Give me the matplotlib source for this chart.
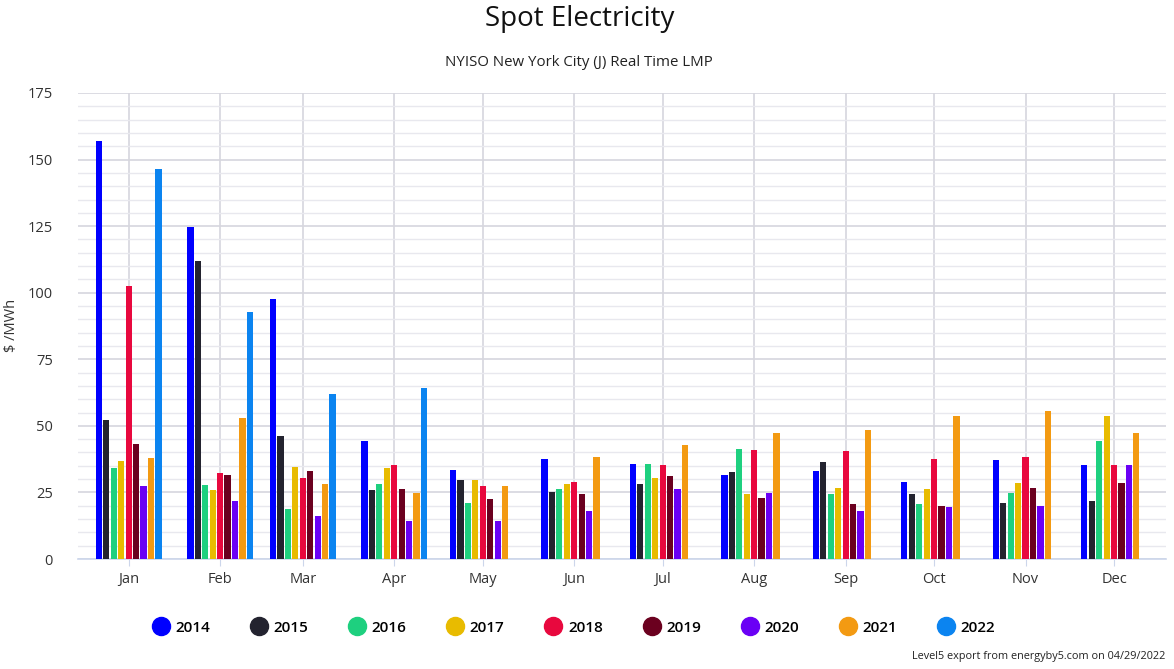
import numpy as np
import pandas as pd
import matplotlib
matplotlib.use("Agg")
import matplotlib.pyplot as plt
import matplotlib.dates as mdates
from matplotlib.lines import Line2D

# Datos ($/MWh), un valor por mes
meses = ["Jan", "Feb", "Mar", "Apr", "May", "Jun", "Jul", "Aug", "Sep", "Oct", "Nov", "Dec"]
anios = ["2014", "2015", "2016", "2017", "2018", "2019", "2020", "2021", "2022"]

v2014 = [157.1, 124.5, 97.5, 44.2, 33.4, 37.4, 35.6, 31.6, 33.0, 29.0, 37.0, 35.3]
v2015 = [52.2, 111.8, 46.3, 25.8, 29.8, 25.3, 28.0, 32.5, 36.5, 24.5, 20.9, 21.9]
v2016 = [34.1, 27.9, 18.9, 28.0, 21.2, 26.2, 35.6, 41.4, 24.4, 20.8, 24.9, 44.5]
v2017 = [36.9, 26.1, 34.6, 34.3, 29.8, 28.0, 30.3, 24.4, 26.6, 26.2, 28.5, 53.7]
v2018 = [102.4, 32.4, 30.6, 35.3, 27.3, 28.9, 35.2, 41.0, 40.7, 37.5, 38.4, 35.3]
v2019 = [43.2, 31.5, 32.9, 26.2, 22.6, 24.5, 31.1, 23.1, 20.8, 20.0, 26.8, 28.5]
v2020 = [27.5, 21.6, 16.2, 14.1, 14.1, 18.2, 26.2, 24.9, 18.1, 19.5, 20.0, 35.3]
v2021 = [37.8, 53.0, 28.3, 24.9, 27.6, 38.3, 42.8, 47.3, 48.6, 53.7, 55.4, 47.4]
v2022 = [146.3, 92.6, 62.0, 64.4, np.nan, np.nan, np.nan, np.nan, np.nan, np.nan, np.nan, np.nan]

series = [v2014, v2015, v2016, v2017, v2018, v2019, v2020, v2021, v2022]
colores = ["#0000ff", "#23232f", "#1ed07f", "#e8bb00", "#e8083e",
           "#6b001f", "#6a00f5", "#f39a12", "#0b84f0"]

fechas = pd.date_range("2022-01-01", periods=12, freq="MS")
x = mdates.date2num(fechas)

plt.rcParams['font.family'] = ['Open Sans', 'DejaVu Sans']

fig = plt.figure(figsize=(11.74, 6.69), dpi=100)
ax = fig.add_axes([0.0664, 0.1644, 0.9268, 0.6966])

slot = 2.52
ancho = 2.1
for i, (vals, col) in enumerate(zip(series, colores)):
    ax.bar(x + (i - 4) * slot, vals, width=ancho, color=col, zorder=3)

ax.set_ylim(0, 175)
ax.set_xlim(x[0] - 17.2, x[-1] + 17.6)
ax.set_yticks(np.arange(0, 176, 25))
ax.set_yticks(np.arange(0, 176, 5), minor=True)
ax.set_xticks(x)
ax.set_xticklabels(meses)

ax.grid(axis="y", which="minor", color="#e8e8ee", linewidth=1, zorder=0)
ax.grid(axis="y", which="major", color="#d6d6de", linewidth=1.2, zorder=0)
ax.grid(axis="x", which="major", color="#d6d6de", linewidth=1.2, zorder=0)

for s in ["top", "right", "left"]:
    ax.spines[s].set_visible(False)
ax.spines["bottom"].set_color("#ccd6eb")
ax.spines["bottom"].set_linewidth(1.2)
ax.tick_params(axis="y", which="both", length=0, labelsize=10.5, labelcolor="#333333", pad=18)
ax.tick_params(axis="x", length=5, color="#ccd6eb", labelsize=10.5, labelcolor="#333333", pad=4)

# etiqueta del eje y colocada a mano para que no se corte
fig.text(0.0095, 0.513, "$ /MWh", rotation=90, ha="center", va="center",
         fontsize=10.5, color="#333333")

fig.text(0.4935, 0.972, "Spot Electricity", ha="center", va="center", fontsize=20, color="#111111")
fig.text(0.4935, 0.906, "NYISO New York City (J) Real Time LMP", ha="center", va="center",
         fontsize=10.8, color="#222222")

handles = [Line2D([], [], marker="o", linestyle="none", markersize=13,
                  markerfacecolor=c, markeredgecolor=c) for c in colores]
fig.legend(handles, anios, loc="center", bbox_to_anchor=(0.489, 0.062), ncol=9,
           frameon=False, handletextpad=0.45, columnspacing=2.7,
           handlelength=1.0, prop={"size": 11, "weight": "semibold"})

fig.text(0.993, 0.018, "Level5 export from energyby5.com on 04/29/2022", ha="right",
         va="center", fontsize=7.8, color="#222222")

plt.savefig("out.png", dpi=100)
